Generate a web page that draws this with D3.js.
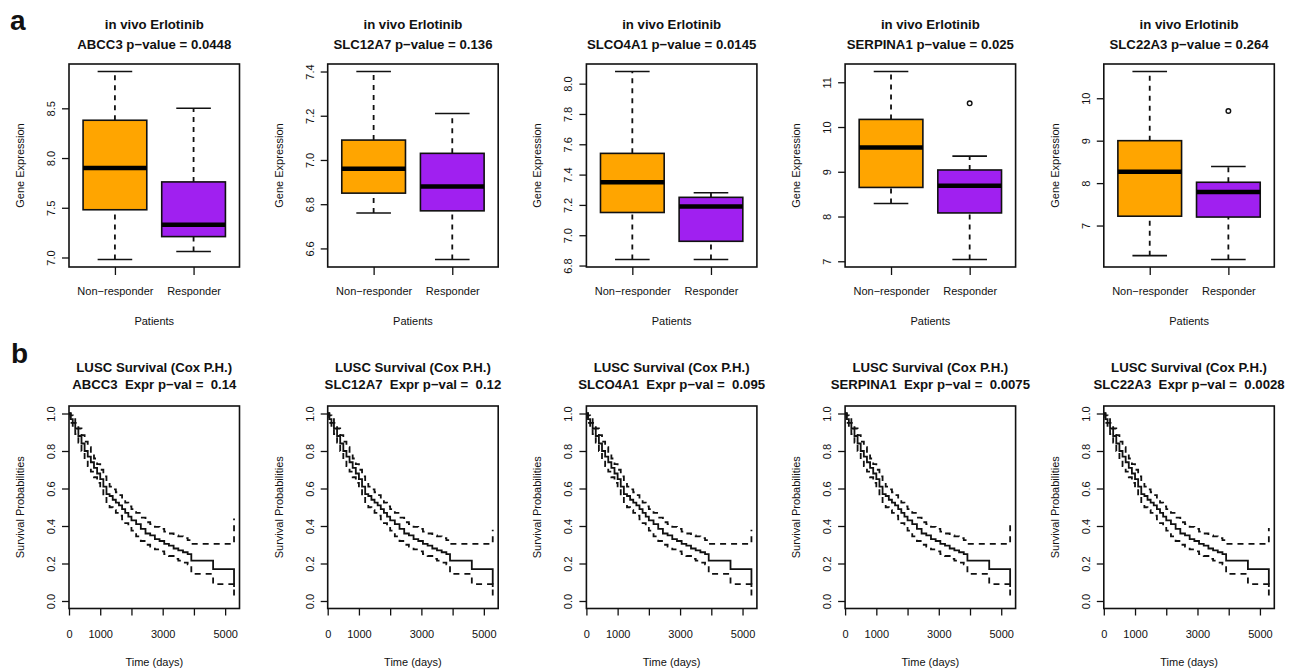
<!DOCTYPE html>
<html>
<head>
<meta charset="utf-8">
<script src="https://cdn.jsdelivr.net/npm/d3@7"></script>
<style>
  body { margin: 0; background: #fff; }
  text { font-family: "Liberation Sans", Arial, Helvetica, sans-serif; fill: #111; }
</style>
</head>
<body>
<svg id="chart" width="1301" height="671"></svg>
<script>
// ---- data ----
const genes = ['ABCC3', 'SLC12A7', 'SLCO4A1', 'SERPINA1', 'SLC22A3'];
const groups = ['Non\u2212responder', 'Responder'];
const boxPvalues = ['0.0448', '0.136', '0.0145', '0.025', '0.264'];

// five number summaries: [min, q1, median, q3, max]
const nonResponderStats = [
  [6.98, 7.48, 7.90, 8.38, 8.87],
  [6.76, 6.85, 6.96, 7.09, 7.40],
  [6.84, 7.15, 7.35, 7.54, 8.08],
  [8.29, 8.65, 9.54, 10.17, 11.24],
  [6.29, 7.22, 8.27, 9.00, 10.63]
];
const responderStats = [
  [7.06, 7.21, 7.33, 7.76, 8.50],
  [6.55, 6.77, 6.88, 7.03, 7.21],
  [6.84, 6.96, 7.19, 7.25, 7.28],
  [7.04, 8.08, 8.69, 9.04, 9.35],
  [6.20, 7.20, 7.79, 8.02, 8.39]
];
const nonResponderOutliers = [[], [], [], [], []];
const responderOutliers = [[], [], [], [10.53], [9.70]];

const boxYTicks = [
  [7.0, 7.5, 8.0, 8.5],
  [6.6, 6.8, 7.0, 7.2, 7.4],
  [6.8, 7.0, 7.2, 7.4, 7.6, 7.8, 8.0],
  [7, 8, 9, 10, 11],
  [7, 8, 9, 10]
];
const boxYFormats = ['.1f', '.1f', '.1f', 'd', 'd'];

// Kaplan-Meier curve (same LUSC cohort in every panel)
const survTime  = [0, 50, 120, 200, 300, 400, 500, 600, 700, 800, 900, 1000, 1100, 1200, 1300, 1400, 1500, 1600, 1700, 1800, 1900, 2000, 2150, 2300, 2450, 2600, 2750, 2900, 3050, 3200, 3350, 3500, 3650, 3800, 3917, 4615, 5285];
const survEst   = [1.0, 0.97, 0.95, 0.92, 0.88, 0.84, 0.80, 0.77, 0.74, 0.71, 0.68, 0.65, 0.61, 0.57, 0.56, 0.54, 0.525, 0.51, 0.49, 0.47, 0.45, 0.43, 0.41, 0.385, 0.36, 0.35, 0.33, 0.32, 0.305, 0.295, 0.28, 0.27, 0.26, 0.25, 0.215, 0.17, 0.075];
const survUpper = [1.0, 0.99, 0.975, 0.95, 0.92, 0.885, 0.85, 0.82, 0.79, 0.76, 0.73, 0.70, 0.665, 0.63, 0.61, 0.595, 0.58, 0.565, 0.545, 0.525, 0.505, 0.49, 0.47, 0.445, 0.42, 0.41, 0.395, 0.385, 0.37, 0.36, 0.35, 0.345, 0.335, 0.325, 0.305, 0.305];
const survLower = [1.0, 0.95, 0.925, 0.89, 0.845, 0.80, 0.755, 0.72, 0.69, 0.66, 0.63, 0.60, 0.56, 0.52, 0.50, 0.485, 0.47, 0.455, 0.435, 0.415, 0.395, 0.375, 0.345, 0.32, 0.30, 0.29, 0.275, 0.265, 0.25, 0.24, 0.225, 0.215, 0.205, 0.195, 0.145, 0.09, 0.01];
const upperEnd = [0.44, 0.38, 0.38, 0.43, 0.39]; // last upper CI value per panel
const coxPvalues = ['0.14', '0.12', '0.095', '0.0075', '0.0028'];

const survXTicks = [0, 1000, 2000, 3000, 4000, 5000];
const survXLabels = [0, 1000, 3000, 5000];
const survYTicks = [0, 0.2, 0.4, 0.6, 0.8, 1.0];

// ---- layout ----
const svg = d3.select('#chart');
const colors = ['#FFA500', '#A020F0'];
const panelStep = 258.7;
const panelW = 170.5;
const firstLeft = 69;
const boxTop = 64, boxBottom = 267;
const survTop = 406, survBottom = 608.5;

// panel letters
svg.append('text').attr('x', 10).attr('y', 30).attr('font-size', 28)
  .attr('font-weight', 'bold').text('a');
svg.append('text').attr('x', 11).attr('y', 363).attr('font-size', 28)
  .attr('font-weight', 'bold').text('b');

function styleLeftAxis(g) {
  g.select('.domain').remove();
  g.selectAll('.tick line').attr('stroke', '#111').attr('stroke-width', 1.3);
  g.selectAll('.tick text')
    .attr('transform', 'rotate(-90)')
    .attr('x', 0).attr('y', -14).attr('dy', null)
    .attr('text-anchor', 'middle')
    .attr('font-size', 11);
}

function titles(cx, y1, y2, line1, line2) {
  svg.append('text').attr('x', cx).attr('y', y1).attr('text-anchor', 'middle')
    .attr('font-size', 13.2).attr('font-weight', 'bold').text(line1);
  svg.append('text').attr('x', cx).attr('y', y2).attr('text-anchor', 'middle')
    .attr('font-size', 13.2).attr('font-weight', 'bold')
    .style('white-space', 'pre').text(line2);
}

genes.forEach((gene, i) => {
  const left = firstLeft + i * panelStep;
  const right = left + panelW;
  const cx = (left + right) / 2;

  // ---------- boxplot row ----------
  const allVals = nonResponderStats[i].concat(responderStats[i], nonResponderOutliers[i], responderOutliers[i]);
  const lo = d3.min(allVals), hi = d3.max(allVals);
  const pad = (hi - lo) * 0.04;
  const y = d3.scaleLinear().domain([lo - pad, hi + pad]).range([boxBottom, boxTop]);
  const x = d3.scaleLinear().domain([0.416, 2.584]).range([left, right]);

  const g = svg.append('g');
  const statsList = [nonResponderStats[i], responderStats[i]];
  const outList = [nonResponderOutliers[i], responderOutliers[i]];

  statsList.forEach((s, j) => {
    const pos = j + 1;
    // whiskers
    [[s[0], s[1]], [s[3], s[4]]].forEach(([a, b]) => {
      g.append('line')
        .attr('x1', x(pos)).attr('x2', x(pos))
        .attr('y1', y(a)).attr('y2', y(b))
        .attr('stroke', '#111').attr('stroke-width', 1.8)
        .attr('stroke-dasharray', '5,5');
    });
    // staples
    [s[0], s[4]].forEach(v => {
      g.append('line')
        .attr('x1', x(pos - 0.22)).attr('x2', x(pos + 0.22))
        .attr('y1', y(v)).attr('y2', y(v))
        .attr('stroke', '#111').attr('stroke-width', 1.6);
    });
    // box
    g.append('rect')
      .attr('x', x(pos - 0.405)).attr('width', x(pos + 0.405) - x(pos - 0.405))
      .attr('y', y(s[3])).attr('height', y(s[1]) - y(s[3]))
      .attr('fill', colors[j]).attr('stroke', '#111').attr('stroke-width', 1.6);
    // median
    g.append('line')
      .attr('x1', x(pos - 0.405)).attr('x2', x(pos + 0.405))
      .attr('y1', y(s[2])).attr('y2', y(s[2]))
      .attr('stroke', '#000').attr('stroke-width', 4.5);
    // outliers
    outList[j].forEach(v => {
      g.append('circle').attr('cx', x(pos)).attr('cy', y(v)).attr('r', 2.3)
        .attr('fill', 'none').attr('stroke', '#111').attr('stroke-width', 1.4);
    });
  });

  g.append('rect').attr('x', left).attr('y', boxTop)
    .attr('width', panelW).attr('height', boxBottom - boxTop)
    .attr('fill', 'none').attr('stroke', '#111').attr('stroke-width', 1.6);

  g.append('g').attr('transform', `translate(${left},0)`)
    .call(d3.axisLeft(y).tickValues(boxYTicks[i]).tickSize(7)
      .tickFormat(d3.format(boxYFormats[i])))
    .call(styleLeftAxis);

  const xAxis = g.append('g').attr('transform', `translate(0,${boxBottom})`)
    .call(d3.axisBottom(x).tickValues([1, 2]).tickSize(8)
      .tickFormat(d => groups[d - 1]));
  xAxis.select('.domain').remove();
  xAxis.selectAll('.tick line').attr('stroke', '#111').attr('stroke-width', 1.3);
  xAxis.selectAll('.tick text').attr('y', 28).attr('dy', null).attr('font-size', 11);

  g.append('text').attr('x', cx).attr('y', 325).attr('text-anchor', 'middle')
    .attr('font-size', 11).text('Patients');
  g.append('text').attr('transform', `translate(${left - 45},${(boxTop + boxBottom) / 2}) rotate(-90)`)
    .attr('text-anchor', 'middle').attr('font-size', 11).text('Gene Expression');

  titles(cx, 29, 48.5, 'in vivo Erlotinib', `${gene} p\u2212value = ${boxPvalues[i]}`);

  // ---------- survival row ----------
  const sx = d3.scaleLinear().domain([0, 5460]).range([left, right]);
  const sy = d3.scaleLinear().domain([-0.04, 1.04]).range([survBottom, survTop]);
  const sg = svg.append('g');

  const line = d3.line().curve(d3.curveStepAfter)
    .x(d => sx(d[0])).y(d => sy(d[1]));

  const upperVals = survUpper.concat([upperEnd[i]]);
  const estPts = d3.zip(survTime, survEst);
  const upPts = d3.zip(survTime, upperVals);
  const loPts = d3.zip(survTime, survLower);

  [upPts, loPts].forEach(pts => {
    sg.append('path').datum(pts).attr('d', line)
      .attr('fill', 'none').attr('stroke', '#111').attr('stroke-width', 1.8)
      .attr('stroke-dasharray', '6,5');
  });
  sg.append('path').datum(estPts).attr('d', line)
    .attr('fill', 'none').attr('stroke', '#111').attr('stroke-width', 1.8);

  sg.append('rect').attr('x', left).attr('y', survTop)
    .attr('width', panelW).attr('height', survBottom - survTop)
    .attr('fill', 'none').attr('stroke', '#111').attr('stroke-width', 1.6);

  sg.append('g').attr('transform', `translate(${left},0)`)
    .call(d3.axisLeft(sy).tickValues(survYTicks).tickSize(7).tickFormat(d3.format('.1f')))
    .call(styleLeftAxis);

  const sxAxis = sg.append('g').attr('transform', `translate(0,${survBottom})`)
    .call(d3.axisBottom(sx).tickValues(survXTicks).tickSize(7)
      .tickFormat(d => survXLabels.includes(d) ? d : ''));
  sxAxis.select('.domain').remove();
  sxAxis.selectAll('.tick line').attr('stroke', '#111').attr('stroke-width', 1.3);
  sxAxis.selectAll('.tick text').attr('y', 29.5).attr('dy', null).attr('font-size', 11);

  sg.append('text').attr('x', cx).attr('y', 666).attr('text-anchor', 'middle')
    .attr('font-size', 11).text('Time (days)');
  sg.append('text').attr('transform', `translate(${left - 45},${(survTop + survBottom) / 2}) rotate(-90)`)
    .attr('text-anchor', 'middle').attr('font-size', 11).text('Survival Probabilities');

  titles(cx, 372.3, 389, 'LUSC Survival (Cox P.H.)', `${gene}  Expr p\u2212val =  ${coxPvalues[i]}`);
});
</script>
</body>
</html>
